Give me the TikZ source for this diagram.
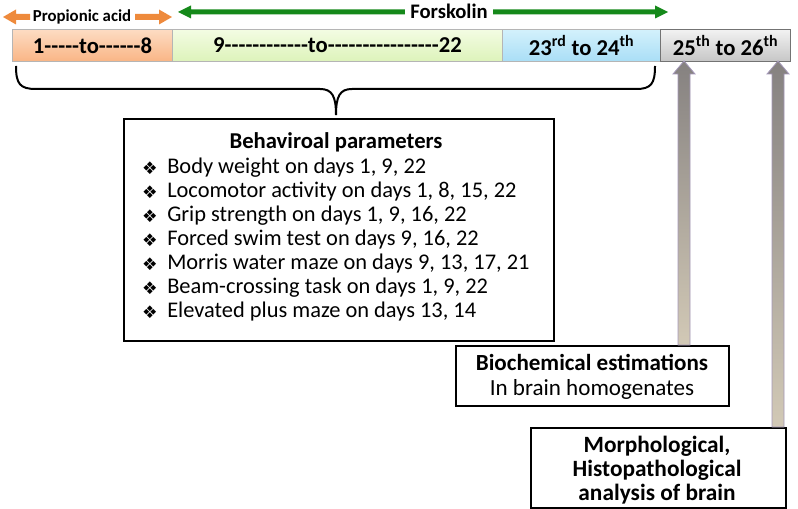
\documentclass[tikz,border=0pt]{standalone}
\usepackage{fontspec}
\setmainfont{Carlito}
\newfontfamily\symfont{DejaVu Sans}
\usetikzlibrary{calc}
\newcommand\hy{\mbox{-}}
\definecolor{orangeT}{HTML}{FDDCC3}
\definecolor{orangeB}{HTML}{F9B585}
\definecolor{greenT}{HTML}{F3FCE3}
\definecolor{greenB}{HTML}{DDF3BA}
\definecolor{blueT}{HTML}{D3F1FC}
\definecolor{blueB}{HTML}{A9DEF6}
\definecolor{grayT}{HTML}{F2F2F2}
\definecolor{grayB}{HTML}{C6C6C6}
\definecolor{segborder}{HTML}{B5B5B5}
\definecolor{arrorange}{HTML}{EE8A3C}
\definecolor{arrgreen}{HTML}{15891A}
\definecolor{blkT}{HTML}{858180}
\definecolor{blkB}{HTML}{D2C9B6}
\definecolor{blkedge}{HTML}{A397B8}
\tikzset{
  seg/.style={draw=segborder, line width=0.8pt, minimum height=24pt, inner sep=0pt, anchor=north west, font=\fontsize{17}{20}\selectfont\bfseries},
  infobox/.style={draw=black, line width=1.3pt, inner sep=0pt, anchor=north west},
  listitem/.style={anchor=west, inner sep=0pt, font=\fontsize{16.8}{19}\selectfont},
  bullet/.style={anchor=center, inner sep=0pt, font=\symfont\fontsize{13}{15}\selectfont},
  boxtext/.style={inner sep=0pt, font=\fontsize{17.3}{20}\selectfont},
  blockarrow/.style={top color=blkT, bottom color=blkB, draw=blkedge, line width=0.6pt},
}
\begin{document}
\begin{tikzpicture}[x=0.75pt,y=-0.75pt]
\useasboundingbox (0,0) rectangle (798,509);
% timeline segments
\node[seg, top color=orangeT, bottom color=orangeB, minimum width=120pt] (s1) at (12,29) {1\hy\hy\hy\hy\hy to\hy\hy\hy\hy\hy\hy 8};
\node[seg, top color=greenT, bottom color=greenB, minimum width=247.5pt] (s2) at (172,29) {9\hy\hy\hy\hy\hy\hy\hy\hy\hy\hy\hy\hy to\hy\hy\hy\hy\hy\hy\hy\hy\hy\hy\hy\hy\hy\hy\hy\hy 22};
\node[seg, top color=blueT, bottom color=blueB, minimum width=118.5pt] (s3) at (502,29) {23\textsuperscript{rd} to 24\textsuperscript{th}};
\node[seg, draw=gray!90!black, top color=grayT, bottom color=grayB, minimum width=97.5pt] (s4) at (660,29) {25\textsuperscript{th} to 26\textsuperscript{th}};
% propionic acid double arrow
\node[inner sep=0pt, font=\fontsize{12.6}{14}\selectfont\bfseries] (pa) at (82,17) {Propionic acid};
\fill[arrorange] (3,17) -- (16,9.5) -- (16,14) -- (30,14) -- (30,20) -- (16,20) -- (16,24.5) -- cycle;
\fill[arrorange] (172,17) -- (159,9.5) -- (159,14) -- (135,14) -- (135,20) -- (159,20) -- (159,24.5) -- cycle;
% forskolin arrow
\coordinate (fl) at (178,12);
\coordinate (fr) at (668,12);
\fill[arrgreen] (fl) -- (191,5.5) -- (191,9.5) -- (655,9.5) -- (655,5.5) -- (fr) -- (655,18.5) -- (655,14.5) -- (191,14.5) -- (191,18.5) -- cycle;
\node[fill=white, inner xsep=4pt, inner ysep=1pt, font=\fontsize{15.5}{17}\selectfont\bfseries] (fk) at (449,11) {Forskolin};
% brace
\draw[line width=1.5pt] (16,66) .. controls (16,84) and (20,89) .. (36,89) -- (320,89) .. controls (332,89) and (336,96) .. (336,115)
  .. controls (336,96) and (340,89) .. (352,89) -- (636,89) .. controls (651,89) and (655,84) .. (655,66);
% behavioural box
\node[infobox, minimum width=322.5pt, minimum height=166.5pt] (beh) at (123,118) {};
\node[inner sep=0pt, font=\fontsize{17}{19}\selectfont\bfseries] (bt) at (336,142) {Behaviroal parameters};
\foreach \y/\t [count=\i] in {
  168/{Body weight on days 1, 9, 22},
  192/{Locomotor activity on days 1, 8, 15, 22},
  216/{Grip strength on days 1, 9, 16, 22},
  240/{Forced swim test on days 9, 16, 22},
  264/{Morris water maze on days 9, 13, 17, 21},
  288/{Beam-crossing task on days 1, 9, 22},
  312/{Elevated plus maze on days 13, 14}} {
  \node[bullet] (b\i) at (150,\y) {❖};
  \node[listitem] (l\i) at (167,\y) {\t};
}
% biochemical box
\node[infobox, minimum width=204.75pt, minimum height=45pt] (bio) at (455,345) {};
\node[boxtext, font=\fontsize{17.3}{20}\selectfont\bfseries] (bio1) at (592,362) {Biochemical estimations};
\node[boxtext] (bio2) at (592,389) {In brain homogenates};
% morphological box
\node[infobox, minimum width=191.25pt, minimum height=60pt] (mor) at (530,427) {};
\node[boxtext, font=\fontsize{17.5}{20}\selectfont\bfseries] (m1) at (657,446) {Morphological,};
\node[boxtext, font=\fontsize{17.5}{20}\selectfont\bfseries] (m2) at (657,470) {Histopathological};
\node[boxtext, font=\fontsize{17.5}{20}\selectfont\bfseries] (m3) at (657,494) {analysis of brain};
% block arrows
\path[blockarrow] (684,61) -- (695,74) -- (690,74) -- (690,345) -- (678,345) -- (678,74) -- (673,74) -- cycle;
\path[blockarrow] (778,61) -- (789,74) -- (784,74) -- (784,427) -- (772,427) -- (772,74) -- (767,74) -- cycle;
\end{tikzpicture}
\end{document}
